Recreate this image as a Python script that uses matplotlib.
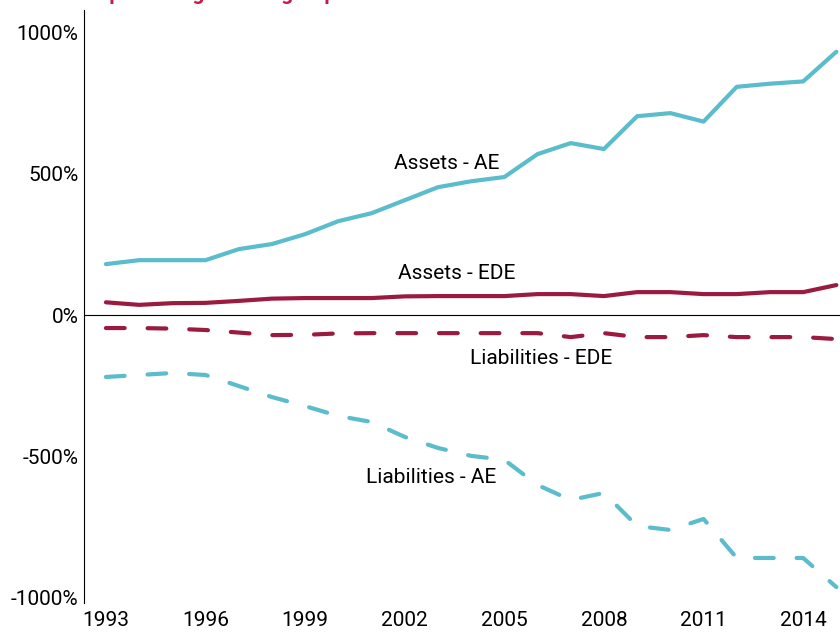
import matplotlib
matplotlib.use("Agg")
import matplotlib.pyplot as plt

plt.rcParams['font.family'] = ['Roboto', 'DejaVu Sans']

# data (percent)
years = list(range(1993, 2016))
assets_ae = [180, 194, 194, 194, 233, 251, 286, 332, 360, 406, 452, 473, 488,
             569, 608, 587, 703, 714, 684, 807, 818, 826, 931]
assets_ede = [45, 36, 42, 43, 50, 58, 60, 60, 60, 66, 67, 67, 67,
              74, 74, 67, 81, 81, 74, 74, 81, 81, 106]
liab_ede = [-46, -46, -48, -53, -62, -71, -70, -65, -64, -64, -64, -64, -64,
            -64, -78, -64, -78, -78, -71, -78, -78, -78, -85]
liab_ae = [-219, -212, -205, -212, -251, -290, -322, -357, -378, -431, -470, -498, -512,
           -601, -654, -629, -746, -760, -721, -859, -859, -859, -962]

xticks = [1993, 1996, 1999, 2002, 2005, 2008, 2011, 2014]
yticks = [-1000, -500, 0, 500, 1000]

cyan = '#5bbccc'
red = '#9b1b40'

fig = plt.figure(figsize=(8.4, 6.36), dpi=100)
ax = fig.add_axes([0.1, 0.052, 0.9, 0.932])

ax.plot(years, assets_ae, color=cyan, lw=3, solid_capstyle='round')
ax.plot(years, assets_ede, color=red, lw=3, solid_capstyle='round')
ax.plot(years, liab_ede, color=red, lw=3, dashes=(4.5, 5.5), dash_capstyle='round')
ax.plot(years, liab_ae, color=cyan, lw=3, dashes=(4.5, 5.5), dash_capstyle='round')

ax.axhline(0, color='black', lw=0.8)

ax.text(2003.27, 537, 'Assets - AE', fontsize=15, ha='center', va='center')
ax.text(2003.57, 148, 'Assets - EDE', fontsize=15, ha='center', va='center')
ax.text(2006.1, -152, 'Liabilities - EDE', fontsize=15, ha='center', va='center')
ax.text(2002.8, -576, 'Liabilities - AE', fontsize=15, ha='center', va='center')

ax.set_xlim(1992.34, 2015.11)
ax.set_ylim(-1018, 1078)
ax.set_xticks(xticks)
ax.set_yticks(yticks)
ax.set_yticklabels([f'{v}%' for v in yticks])
ax.tick_params(length=0, labelsize=15, pad=6)
ax.tick_params(axis='y', pad=4)

for s in ['top', 'right', 'bottom']:
    ax.spines[s].set_visible(False)
ax.spines['left'].set_linewidth(0.8)

# title mostly cut off at the top edge
fig.text(0.02, 1.0, 'Stocks in percentage of the group GDP', color='#c8194b',
         fontsize=15, fontweight='bold', va='baseline', ha='left')

fig.savefig('out.png', dpi=100)
